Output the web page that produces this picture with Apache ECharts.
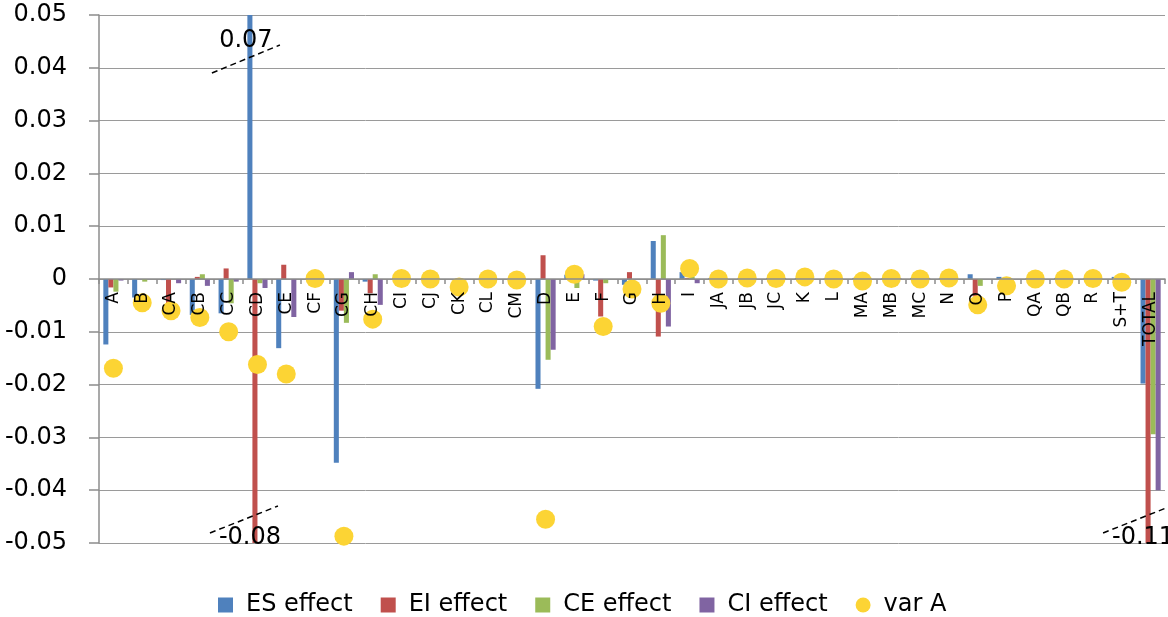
<!DOCTYPE html>
<html><head><meta charset="utf-8">
<script src="https://cdn.jsdelivr.net/npm/echarts@6/dist/echarts.min.js"></script>
<style>html,body{margin:0;padding:0;background:#fff}#c{width:1168px;height:617px}</style>
</head><body><div id="c"></div>
<script>
const categories = ['A','B','CA','CB','CC','CD','CE','CF','CG','CH','CI','CJ','CK','CL','CM','D','E','F','G','H','I','JA','JB','JC','K','L','MA','MB','MC','N','O','P','QA','QB','R','S+T','TOTAL'];
const esEffect = [-0.0124,-0.0035,-0.0002,-0.0068,-0.0065,0.07,-0.0131,0,-0.0348,-0.0005,0,0,0,0,0,-0.0208,0.0008,-0.0003,-0.0011,0.0072,0.0013,0.0002,0.0001,0.0002,0.0002,0.0001,0.0002,0.0001,0.0002,0.0002,0.0009,0.0004,0.0001,0.0002,0.0001,0.0004,-0.0198];
const eiEffect = [-0.0016,0,-0.0059,0.0004,0.002,-0.08,0.0027,0,-0.006,-0.0027,0,0,0,0,0,0.0045,0,-0.0071,0.0013,-0.0109,0.0002,0,0,0,0,0,0,0,0,0,-0.0033,0,0,0,0,0,-0.11];
const ceEffect = [-0.0024,-0.0005,0,0.0009,-0.0046,-0.0008,0,0,-0.0083,0.0009,0,0,0,0,0,-0.0153,-0.0017,-0.0008,0,0.0083,0.0005,0,0,0,0,0,0,0,0,0,-0.0013,0,0,0,0,0,-0.0294];
const ciEffect = [-0.0003,0,-0.0008,-0.0013,-0.0005,-0.0017,-0.0072,0,0.0013,-0.0049,0,0,0,0,0,-0.0134,0.0009,0,0,-0.009,-0.0008,0,0,0.0002,0,0,0,0.0002,0.0002,0,0,0,0,0,0,0,-0.04];
const varA = [-0.0169,-0.0045,-0.006,-0.0073,-0.01,-0.0162,-0.018,0.0001,-0.0487,-0.0076,0.0001,0,-0.0015,0,-0.0002,-0.0455,0.0009,-0.009,-0.0019,-0.0046,0.002,0,0.0002,0.0001,0.0004,0,-0.0004,0.0001,0,0.0002,-0.0049,-0.0013,0,0,0.0001,-0.0006,null];
const seriesNames = ['ES effect','EI effect','CE effect','CI effect','var A'];
const yMin = -0.05, yMax = 0.05, yStep = 0.01;

const colors = ['#4F81BD','#C0504D','#9BBB59','#8064A2','#FCD434'];
const barData = [esEffect, eiEffect, ceEffect, ciEffect];
const font = 'DejaVu Sans';

const gridTop = 15, gridBottom = 74, chartH = 617;
const plotH = chartH - gridTop - gridBottom;
// place the category axis at value 0 (like an axis crossing at zero)
const zeroOffset = -plotH * (0 - yMin) / (yMax - yMin);

const chart = echarts.init(document.getElementById('c'), null, {renderer:'canvas'});
const series = barData.map((d, i) => ({
  name: seriesNames[i], type: 'bar', data: d, clip: true,
  barGap: '0%', barCategoryGap: '30%',
  itemStyle: {color: colors[i]}
}));
series.push({
  name: seriesNames[4], type: 'scatter', data: varA, symbol: 'circle', symbolSize: 19,
  itemStyle: {color: colors[4], opacity: 1}, z: 5
});

chart.setOption({
  animation: false,
  color: colors,
  grid: {left: 99, right: 3, top: gridTop, bottom: gridBottom, containLabel: false},
  legend: {
    data: seriesNames.map((n, i) => ({name: n, icon: i < 4 ? 'rect' : 'circle'})),
    left: 213, top: 588, itemWidth: 15, itemHeight: 15, itemGap: 28,
    textStyle: {fontFamily: font, fontSize: 24, color: '#000', padding: [0,0,0,8]}
  },
  xAxis: {
    type: 'category', data: categories, position: 'bottom', offset: zeroOffset,
    axisLine: {onZero: false, lineStyle: {color: '#8c8c8c', width: 1.5}},
    axisTick: {show: true, length: 5, lineStyle: {color: '#8c8c8c', width: 1.5}},
    axisLabel: {rotate: 90, margin: 13, interval: 0, fontFamily: font, fontSize: 17, color: '#000'},
    z: 10
  },
  yAxis: {
    type: 'value', min: yMin, max: yMax, interval: yStep,
    axisLine: {show: true, lineStyle: {color: '#8c8c8c', width: 1.5}},
    axisTick: {show: true, length: 10, lineStyle: {color: '#8c8c8c', width: 1.5}},
    splitLine: {show: true, lineStyle: {color: '#9a9a9a', width: 1}},
    axisLabel: {margin: 32, fontFamily: font, fontSize: 24, color: '#000',
      formatter: v => String(Math.round(v * 100) / 100)}
  },
  series: series
});

// axis-break decorations for values outside the axis range
(function addBreaks(){
  const els = [];
  const model = chart.getModel();
  const rect = model.getComponent('grid').coordinateSystem.getRect();
  const top = rect.y, bottom = rect.y + rect.height;
  barData.forEach((d, si) => {
    const sData = model.getSeriesByIndex(si).getData();
    d.forEach((v, di) => {
      if (v == null || (v <= yMax && v >= yMin)) return;
      const lay = sData.getItemLayout(di);
      const cx = lay.x + lay.width / 2;
      const label = String(v);
      if (v > yMax) {
        els.push({type:'text', z: 100, style:{text: label, x: cx - 4, y: top + 26, fill:'#000', font: '24px "DejaVu Sans"', align:'center', verticalAlign:'middle'}});
        els.push({type:'line', z: 100, shape:{x1: cx - 38, y1: top + 58, x2: cx + 30, y2: top + 30}, style:{stroke:'#000', lineWidth:1.5, lineDash:[6,4]}});
      } else {
        els.push({type:'text', z: 100, style:{text: label, x: cx - 5, y: bottom - 5, fill:'#000', font: '24px "DejaVu Sans"', align:'center', verticalAlign:'middle'}});
        els.push({type:'line', z: 100, shape:{x1: cx - 45, y1: bottom - 10, x2: cx + 23, y2: bottom - 37}, style:{stroke:'#000', lineWidth:1.5, lineDash:[6,4]}});
      }
    });
  });
  chart.setOption({graphic: els});
})();
</script>
</body></html>
